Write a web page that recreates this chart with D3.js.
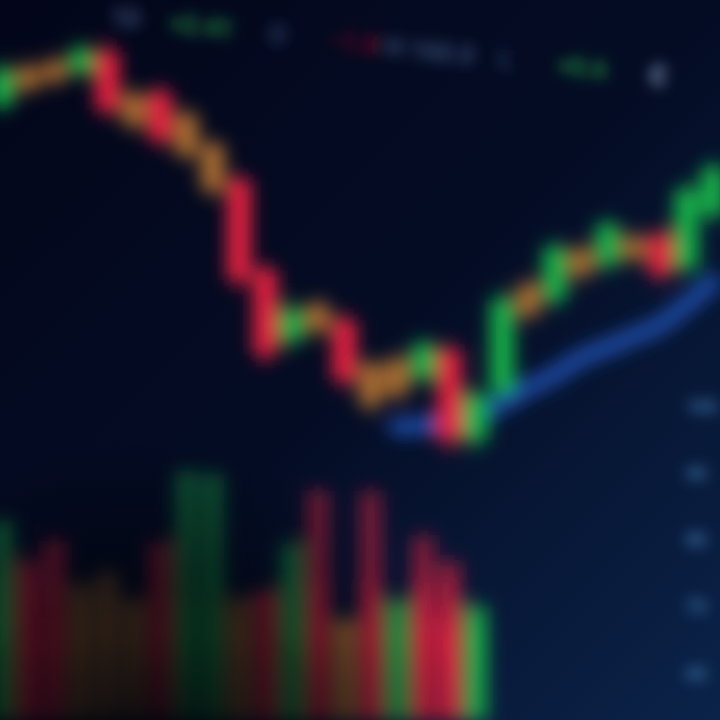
<!DOCTYPE html>
<html><head><meta charset="utf-8">
<script src="https://cdn.jsdelivr.net/npm/d3@7"></script>
<style>html,body{margin:0;padding:0;background:#040a1c;overflow:hidden}</style>
</head><body>
<svg id="chart" width="720" height="720"></svg>
<script>
// ---------- data ----------
const sessions = ["03-01","03-02","03-03","03-04","03-05","03-06","03-07","03-08","03-09","03-10",
                  "03-11","03-12","03-13","03-14","03-15","03-16","03-17","03-18","03-19","03-20",
                  "03-21","03-22","03-23","03-24","03-25","03-26","03-27","03-28"];
const openP  = [150.3,152.8,154.0,155.2,158.2,147.3,152.2,142.8,137.5,139.0,125.5,115.0,116.5,118.0,105.3,106.8,109.3,113.5,100.0,107.2,118.8,121.0,124.8,126.3,127.3,130.8,125.8,133.8];
const closeP = [155.5,155.8,156.7,158.5,149.5,151.8,145.0,148.8,144.3,124.0,112.8,119.5,120.3,109.0,111.3,112.0,114.3,100.0,106.8,121.0,123.3,128.8,128.5,132.3,130.3,124.8,137.5,140.8];
const highP  = [156.7,157.0,157.8,159.7,160.0,152.8,153.3,149.8,145.3,140.2,126.7,121.0,121.3,119.2,112.3,113.2,115.3,114.7,107.8,122.5,124.3,130.0,129.6,133.3,131.5,131.8,138.7,142.0];
const lowP   = [149.2,151.8,152.8,154.3,148.3,146.2,143.8,141.7,136.3,122.5,111.3,113.5,115.3,107.5,103.8,105.7,108.3, 98.2, 98.5,106.3,117.7,119.8,123.7,125.2,126.3,123.7,124.8,132.7];
const candleTone = ["up","flat","flat","up","down","flat","down","flat","flat","down","down","up","flat","down",
                    "flat","flat","up","down","up","up","flat","up","flat","up","flat","down","up","up"];
const maValues = [null,null,null,null,null,null,null,null,null,null,null,null,null,null,null,
                  102.0,102.2,102.8,103.6,105.5,107.8,109.8,112.3,113.9,115.6,117.3,120.3,123.7];
const volValues = [71,57,64,48,52,43,63,89,88,43,46,63,82,36,82,43,66,57,41];
const volTone   = ["up","down","down","flat","flat","flat","down","up","up","flat","down","up","down","flat","down","up","down","down","up"];
const priceTicks = [105, 95, 85, 75, 65];
const legendText = ["1D", "+2.41", "O", "−1.8", "H 160.0", "L", "+0.6", "C"];
const legendTone = ["label","up","dim","down","label","dim","up","bright"];

// ---------- styles ----------
const W = 720, H = 720;
const toneColor = {up:"#17b04a", down:"#e4213f", flat:"#a86c30"};
const legendColor = {label:"#3b4f76", dim:"#2e4168", up:"#1f8c3c", down:"#7c1026", bright:"#a8c0e4"};

const svg = d3.select("#chart");
const defs = svg.append("defs");

const bg = defs.append("linearGradient").attr("id","bg")
  .attr("x1","0").attr("y1","0").attr("x2","1").attr("y2","1");
bg.append("stop").attr("offset","0%").attr("stop-color","#03061a");
bg.append("stop").attr("offset","50%").attr("stop-color","#040c24");
bg.append("stop").attr("offset","100%").attr("stop-color","#0b2349");

const vig = defs.append("radialGradient").attr("id","vig")
  .attr("cx","0.2").attr("cy","1.06").attr("r","0.45");
vig.append("stop").attr("offset","0%").attr("stop-color","#01030a").attr("stop-opacity",0.95);
vig.append("stop").attr("offset","55%").attr("stop-color","#01030a").attr("stop-opacity",0.65);
vig.append("stop").attr("offset","100%").attr("stop-color","#01030a").attr("stop-opacity",0);

Object.entries(toneColor).forEach(([k,c]) => {
  const gr = defs.append("linearGradient").attr("id","vol-"+k)
    .attr("gradientUnits","userSpaceOnUse").attr("x1",0).attr("x2",0).attr("y1",440).attr("y2",720);
  gr.append("stop").attr("offset","0%").attr("stop-color",c).attr("stop-opacity",0.4);
  gr.append("stop").attr("offset","45%").attr("stop-color",c).attr("stop-opacity",0.55);
  gr.append("stop").attr("offset","70%").attr("stop-color",c).attr("stop-opacity",1);
  gr.append("stop").attr("offset","100%").attr("stop-color",c).attr("stop-opacity",0.9);
});

const f = defs.append("filter").attr("id","blur").attr("filterUnits","userSpaceOnUse")
  .attr("x",-60).attr("y",-60).attr("width",W+120).attr("height",H+120);
f.append("feGaussianBlur").attr("stdDeviation",9);
const ft = defs.append("filter").attr("id","blurText").attr("filterUnits","userSpaceOnUse")
  .attr("x",-60).attr("y",-60).attr("width",W+120).attr("height",H+120);
ft.append("feGaussianBlur").attr("stdDeviation",7);

svg.append("rect").attr("width",W).attr("height",H).attr("fill","url(#bg)");

// ---------- scales ----------
const x = d3.scaleBand().domain(sessions).range([-10, 725]).paddingInner(0.08);
const y = d3.scaleLinear().domain([100, 160]).range([440, 40]);
const yVol = d3.scaleLinear().domain([0, 100]).range([720, 440]);

const marks = svg.append("g").attr("filter","url(#blur)");

// volume
marks.append("g").selectAll("rect").data(volValues).join("rect")
  .attr("x",(d,i)=>x(sessions[i]) + 1)
  .attr("width",x.bandwidth() - 2)
  .attr("y",d=>yVol(d))
  .attr("height",d=>yVol(0)-yVol(d))
  .attr("fill",(d,i)=>`url(#vol-${volTone[i]})`);

// moving average
const maLine = d3.line()
  .defined(d=>d!=null)
  .x((d,i)=>x(sessions[i]) + x.bandwidth()/2)
  .y(d=>y(d))
  .curve(d3.curveMonotoneX);
marks.append("path").datum(maValues)
  .attr("d",maLine).attr("fill","none")
  .attr("stroke","#1a48a2").attr("stroke-width",18).attr("stroke-linecap","round");

// candles
const cg = marks.append("g").selectAll("g").data(sessions).join("g");
cg.append("line")
  .attr("x1",d=>x(d)+x.bandwidth()/2).attr("x2",d=>x(d)+x.bandwidth()/2)
  .attr("y1",(d,i)=>y(highP[i])).attr("y2",(d,i)=>y(lowP[i]))
  .attr("stroke",(d,i)=>toneColor[candleTone[i]]).attr("stroke-width",5);
cg.append("rect")
  .attr("x",d=>x(d)).attr("width",x.bandwidth())
  .attr("y",(d,i)=>y(Math.max(openP[i],closeP[i])))
  .attr("height",(d,i)=>Math.max(4, Math.abs(y(openP[i])-y(closeP[i]))))
  .attr("fill",(d,i)=>toneColor[candleTone[i]]);

// vignette
svg.append("rect").attr("width",W).attr("height",H).attr("fill","url(#vig)");

// right price axis
const axisG = svg.append("g").attr("transform","translate(684,0)").attr("filter","url(#blurText)")
  .call(d3.axisRight(y).tickValues(priceTicks).tickSize(0).tickPadding(2).tickFormat(d3.format("d")));
axisG.select(".domain").remove();
axisG.selectAll("text").attr("fill","#4380ba").attr("font-family","Roboto, sans-serif")
  .attr("font-size",18).attr("font-weight","bold");

// top legend
const lx = d3.scalePoint().domain(d3.range(legendText.length)).range([127, 663]);
const leg = svg.append("g").attr("filter","url(#blurText)")
  .attr("transform","rotate(6.2,127,5)");
leg.selectAll("text").data(legendText).join("text")
  .attr("x",(d,i)=>lx(i)).attr("y",27)
  .attr("text-anchor","middle")
  .attr("font-family","Roboto, sans-serif").attr("font-size",25).attr("font-weight","bold")
  .attr("fill",(d,i)=>legendColor[legendTone[i]])
  .text(d=>d);
</script>
</body></html>
